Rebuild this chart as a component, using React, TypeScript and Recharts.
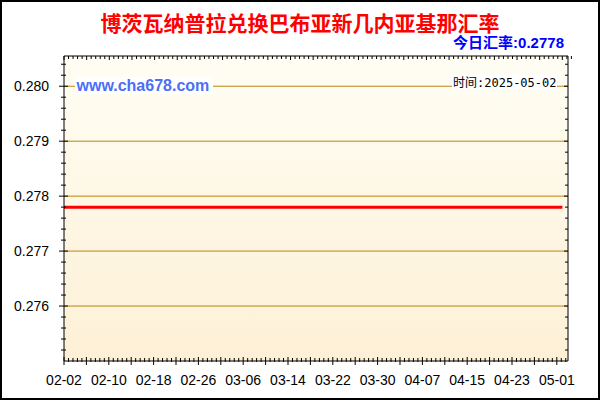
import { LineChart, Line, XAxis, YAxis, ReferenceArea, ReferenceLine } from 'recharts'

// daily rates 2025-02-02 .. 2025-05-02
const dates = [
  '02-02', '02-03', '02-04', '02-05', '02-06', '02-07', '02-08', '02-09', '02-10', '02-11',
  '02-12', '02-13', '02-14', '02-15', '02-16', '02-17', '02-18', '02-19', '02-20', '02-21',
  '02-22', '02-23', '02-24', '02-25', '02-26', '02-27', '02-28', '03-01', '03-02', '03-03',
  '03-04', '03-05', '03-06', '03-07', '03-08', '03-09', '03-10', '03-11', '03-12', '03-13',
  '03-14', '03-15', '03-16', '03-17', '03-18', '03-19', '03-20', '03-21', '03-22', '03-23',
  '03-24', '03-25', '03-26', '03-27', '03-28', '03-29', '03-30', '03-31', '04-01', '04-02',
  '04-03', '04-04', '04-05', '04-06', '04-07', '04-08', '04-09', '04-10', '04-11', '04-12',
  '04-13', '04-14', '04-15', '04-16', '04-17', '04-18', '04-19', '04-20', '04-21', '04-22',
  '04-23', '04-24', '04-25', '04-26', '04-27', '04-28', '04-29', '04-30', '05-01', '05-02',
]

const rates = [
  0.2778, 0.2778, 0.2778, 0.2778, 0.2778, 0.2778, 0.2778, 0.2778, 0.2778, 0.2778,
  0.2778, 0.2778, 0.2778, 0.2778, 0.2778, 0.2778, 0.2778, 0.2778, 0.2778, 0.2778,
  0.2778, 0.2778, 0.2778, 0.2778, 0.2778, 0.2778, 0.2778, 0.2778, 0.2778, 0.2778,
  0.2778, 0.2778, 0.2778, 0.2778, 0.2778, 0.2778, 0.2778, 0.2778, 0.2778, 0.2778,
  0.2778, 0.2778, 0.2778, 0.2778, 0.2778, 0.2778, 0.2778, 0.2778, 0.2778, 0.2778,
  0.2778, 0.2778, 0.2778, 0.2778, 0.2778, 0.2778, 0.2778, 0.2778, 0.2778, 0.2778,
  0.2778, 0.2778, 0.2778, 0.2778, 0.2778, 0.2778, 0.2778, 0.2778, 0.2778, 0.2778,
  0.2778, 0.2778, 0.2778, 0.2778, 0.2778, 0.2778, 0.2778, 0.2778, 0.2778, 0.2778,
  0.2778, 0.2778, 0.2778, 0.2778, 0.2778, 0.2778, 0.2778, 0.2778, 0.2778, 0.2778,
]

const xLabels = ['02-02', '02-10', '02-18', '02-26', '03-06', '03-14', '03-22', '03-30', '04-07', '04-15', '04-23', '05-01']
const yLabels = [0.276, 0.277, 0.278, 0.279, 0.28]

const TITLE = '博茨瓦纳普拉兑换巴布亚新几内亚基那汇率'
const TODAY_RATE = '0.2778'
const STAMP = '2025-05-02'
const SITE = 'www.cha678.com'

const dayOf = (md: string) => {
  const [m, d] = md.split('-').map(Number)
  return (Date.UTC(2025, m - 1, d) - Date.UTC(2025, 1, 2)) / 86400000
}

const data = dates.map((d, i) => ({ day: dayOf(d), date: d, rate: rates[i] }))
const labelDays = xLabels.map(dayOf)

// minor ticks: x every 0.8 day (major every 4), y every 0.0002 (major every 0.001)
const xTicks: number[] = []
for (let i = 0; i <= 112; i++) xTicks.push(Math.round(i * 8) / 10)
const yTicks: number[] = []
for (let i = 1; i <= 27; i++) yTicks.push(Math.round((0.275 + i * 0.0002) * 1e5) / 1e5)

const X_DOMAIN: [number, number] = [0, 90]
const Y_DOMAIN: [number, number] = [0.275, 0.28055]

const isMajorX = (v: number) => Math.abs(v / 4 - Math.round(v / 4)) < 1e-6
const isMajorY = (v: number) => Math.abs(v * 1000 - Math.round(v * 1000)) < 1e-6
const axisFont = '"Liberation Sans", Arial, sans-serif'

function LeftTick({ x, y, payload }: any) {
  const major = isMajorY(payload.value)
  return (
    <g>
      <line x1={x - (major ? 5 : 3)} x2={x + (major ? 4 : 2)} y1={y} y2={y} stroke="#000" />
      {major && (
        <text x={x - 15} y={y + 5} textAnchor="end" fontSize={14} fontFamily={axisFont} fill="#000">
          {payload.value.toFixed(3)}
        </text>
      )}
    </g>
  )
}

function RightTick({ x, y, payload }: any) {
  const major = isMajorY(payload.value)
  return <line x1={x - (major ? 4 : 3)} x2={x} y1={y} y2={y} stroke="#000" />
}

function BottomTick({ x, y, payload }: any) {
  const v = payload.value
  const major = isMajorX(v)
  const idx = labelDays.findIndex((d) => Math.abs(d - v) < 1e-6)
  return (
    <g>
      <line x1={x} x2={x} y1={y - (major ? 4 : 3)} y2={y + (major ? 4 : 1)} stroke="#000" />
      {idx >= 0 && (
        <text x={x} y={y + 24} textAnchor="middle" fontSize={14} fontFamily={axisFont} fill="#000">
          {xLabels[idx]}
        </text>
      )}
    </g>
  )
}

function TopTick({ x, y, payload }: any) {
  const major = isMajorX(payload.value)
  return <line x1={x} x2={x} y1={y} y2={y + (major ? 4 : 3)} stroke="#000" />
}

export default function App() {
  return (
    <div style={{ position: 'fixed', left: 0, top: 0, width: 600, height: 400, background: '#fff' }}>
      <svg width={0} height={0} style={{ position: 'absolute' }}>
        <defs>
          <linearGradient id="plotBg" x1="0" y1="0" x2="0" y2="1">
            <stop offset="0%" stopColor="#fffef4" />
            <stop offset="100%" stopColor="#fdf0d6" />
          </linearGradient>
        </defs>
      </svg>
      <LineChart width={600} height={400} data={data} margin={{ top: 52, right: 28, bottom: 19, left: 44 }}>
        <XAxis
          dataKey="day"
          type="number"
          domain={X_DOMAIN}
          ticks={xTicks}
          interval={0}
          allowDataOverflow
          height={20}
          tickSize={0}
          tickMargin={0}
          tickLine={false}
          axisLine={{ stroke: '#000' }}
          tick={(p: any) => <BottomTick {...p} />}
        />
        <XAxis
          xAxisId="top"
          orientation="top"
          type="number"
          domain={X_DOMAIN}
          ticks={xTicks}
          interval={0}
          allowDataOverflow
          height={4}
          tickSize={0}
          tickMargin={0}
          tickLine={false}
          axisLine={{ stroke: '#000' }}
          tick={(p: any) => <TopTick {...p} />}
        />
        <YAxis
          type="number"
          domain={Y_DOMAIN}
          ticks={yTicks}
          interval={0}
          allowDataOverflow
          width={20}
          tickSize={0}
          tickMargin={0}
          tickLine={false}
          axisLine={{ stroke: '#000' }}
          tick={(p: any) => <LeftTick {...p} />}
        />
        <YAxis
          yAxisId="right"
          orientation="right"
          type="number"
          domain={Y_DOMAIN}
          ticks={yTicks}
          interval={0}
          allowDataOverflow
          width={4}
          tickSize={0}
          tickMargin={0}
          tickLine={false}
          axisLine={{ stroke: '#000' }}
          tick={(p: any) => <RightTick {...p} />}
        />
        <ReferenceArea
          x1={X_DOMAIN[0]}
          x2={X_DOMAIN[1]}
          y1={Y_DOMAIN[0]}
          y2={Y_DOMAIN[1]}
          fill="url(#plotBg)"
          fillOpacity={1}
          stroke="none"
        />
        {yLabels.map((v) => (
          <ReferenceLine key={v} y={v} stroke="#b8860b" strokeWidth={1} />
        ))}
        <Line
          type="linear"
          dataKey="rate"
          stroke="#ff0000"
          strokeWidth={3}
          dot={false}
          activeDot={false}
          isAnimationActive={false}
        />
      </LineChart>
      <svg width={600} height={400} style={{ position: 'absolute', left: 0, top: 0, pointerEvents: 'none' }}>
        <text x={300} y={31} textAnchor="middle" fontSize={21} fontWeight="bold" fill="#ff0000" fontFamily='"Noto Sans CJK SC", sans-serif'>
          {TITLE}
        </text>
        <text x={564} y={48} textAnchor="end" fontSize={15} fontWeight="bold" fill="#0000ff" fontFamily='"Liberation Sans", "Noto Sans CJK SC", sans-serif'>
          今日汇率:{TODAY_RATE}
        </text>
        <rect x={75} y={77} width={138} height={17} fill="#fff" />
        <text x={76.5} y={91} fontSize={16} fontWeight="bold" fill="#4d6ef5" fontFamily={axisFont}>
          {SITE}
        </text>
        <rect x={452} y={74} width={105} height={15} fill="#fff" />
        <text x={453} y={87} fontSize={12} fill="#000" fontFamily='"DejaVu Sans Mono", "Noto Sans CJK SC", monospace'>
          时间:{STAMP}
        </text>
      </svg>
      <div style={{ position: 'absolute', inset: 0, border: '2px solid #000', boxSizing: 'border-box', pointerEvents: 'none' }} />
    </div>
  )
}
